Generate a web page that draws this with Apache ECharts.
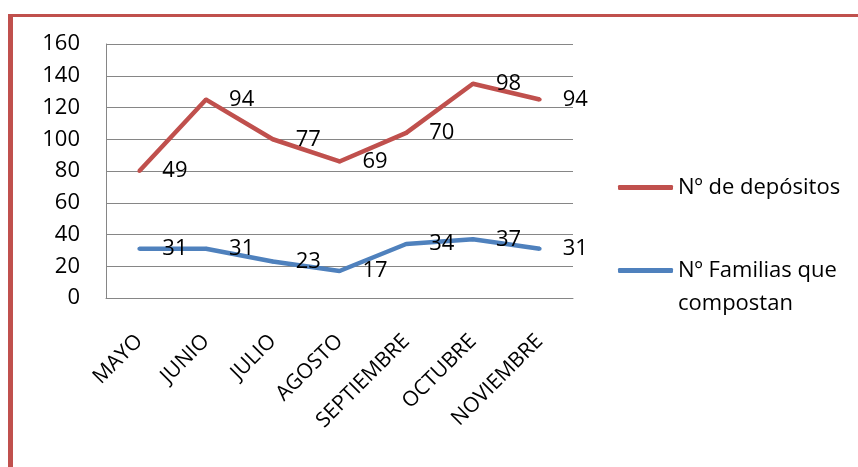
<!DOCTYPE html>
<html>
<head>
<meta charset="utf-8">
<script src="https://cdn.jsdelivr.net/npm/echarts@6/dist/echarts.min.js"></script>
<style>
html,body{margin:0;padding:0;background:#fff;}
#chart{width:858px;height:467px;}
</style>
</head>
<body>
<div id="chart"></div>
<script>
var categories = ['MAYO','JUNIO','JULIO','AGOSTO','SEPTIEMBRE','OCTUBRE','NOVIEMBRE'];
var familias = [31, 31, 23, 17, 34, 37, 31];
var depositos = [49, 94, 77, 69, 70, 98, 94];
var yTicks = [0, 20, 40, 60, 80, 100, 120, 140, 160];
var nameDepositos = 'Nº de depósitos';
var nameFamilias = 'Nº Familias que\ncompostan';

var FONT = '"Open Sans", "Noto Sans", sans-serif';
var RED = '#C0504D';
var BLUE = '#4F81BD';

var chart = echarts.init(document.getElementById('chart'));
var labelCfg = {
  show: true,
  position: 'right',
  distance: 21,
  color: '#000',
  fontFamily: FONT,
  fontSize: 22
};
chart.setOption({
  animation: false,
  backgroundColor: '#fff',
  graphic: [
    {type: 'line', shape: {x1: 10.5, y1: 14, x2: 10.5, y2: 480}, style: {stroke: RED, lineWidth: 5}, silent: true},
    {type: 'line', shape: {x1: 8, y1: 15.5, x2: 870, y2: 15.5}, style: {stroke: RED, lineWidth: 3}, silent: true}
  ],
  grid: {left: 106, top: 44, right: 285, bottom: 169, containLabel: false},
  legend: [
    {
      data: [nameDepositos],
      orient: 'vertical',
      left: 613,
      top: 167,
      itemWidth: 55,
      itemHeight: 5,
      icon: 'roundRect',
      textStyle: {color: '#000', fontFamily: FONT, fontSize: 22, lineHeight: 31},
      selectedMode: false
    },
    {
      data: [nameFamilias],
      orient: 'vertical',
      left: 613,
      top: 216,
      itemWidth: 55,
      itemHeight: 5,
      icon: 'roundRect',
      formatter: function (n) {
        var parts = n.split('\n');
        return '{p| }\n{t|' + parts[0] + '}\n{t|' + parts[1] + '}';
      },
      textStyle: {
        color: '#000', fontFamily: FONT, fontSize: 22, lineHeight: 33,
        rich: {
          p: {fontSize: 22, lineHeight: 33, fontFamily: FONT},
          t: {fontSize: 22, lineHeight: 33, color: '#000', fontFamily: FONT}
        }
      },
      selectedMode: false
    }
  ],
  xAxis: {
    type: 'category',
    data: categories,
    boundaryGap: true,
    axisLine: {show: true, lineStyle: {color: '#868686', width: 1}},
    axisTick: {show: false},
    axisLabel: {
      rotate: 45,
      interval: 0,
      margin: 40,
      color: '#000',
      fontFamily: FONT,
      fontSize: 21
    },
    splitLine: {show: false}
  },
  yAxis: {
    type: 'value',
    min: yTicks[0],
    max: yTicks[yTicks.length - 1],
    interval: 20,
    axisLine: {show: true, lineStyle: {color: '#868686', width: 1}},
    axisTick: {show: false},
    axisLabel: {margin: 26, color: '#000', fontFamily: FONT, fontSize: 22},
    splitLine: {show: true, lineStyle: {color: '#868686', width: 1}}
  },
  series: [
    {
      name: nameFamilias,
      type: 'line',
      stack: 'total',
      data: familias,
      symbol: 'circle',
      symbolSize: 4,
      showSymbol: true,
      lineStyle: {color: BLUE, width: 4.5},
      itemStyle: {color: BLUE},
      label: labelCfg
    },
    {
      name: nameDepositos,
      type: 'line',
      stack: 'total',
      data: depositos,
      symbol: 'circle',
      symbolSize: 4,
      showSymbol: true,
      lineStyle: {color: RED, width: 4.5},
      itemStyle: {color: RED},
      label: labelCfg
    }
  ]
});
</script>
</body>
</html>
